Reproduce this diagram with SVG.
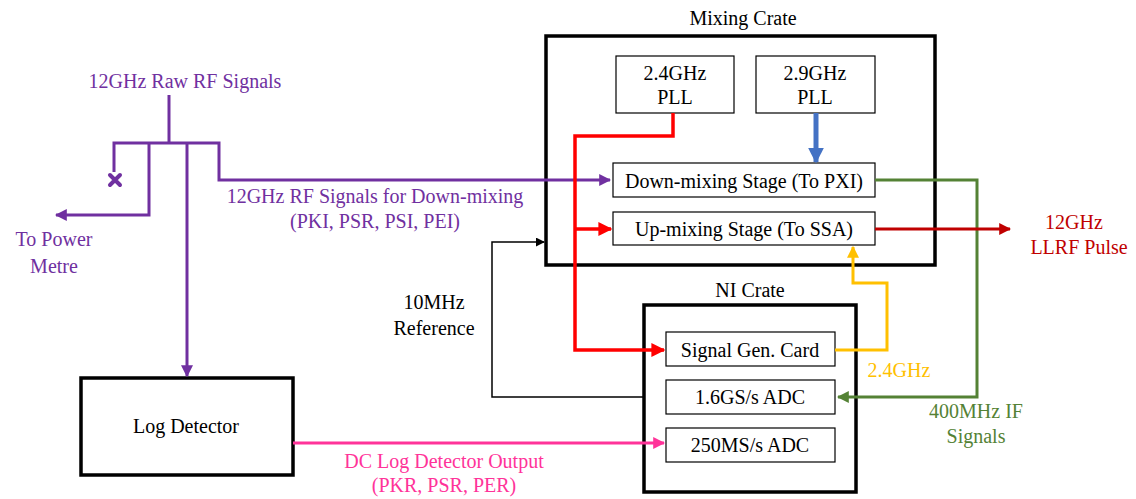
<svg xmlns="http://www.w3.org/2000/svg" width="1136" height="499" viewBox="0 0 1136 499">
<style>
text{font-family:"Liberation Serif","Times New Roman",serif;font-size:20px;text-anchor:middle;fill:#000}
.crate{fill:#fff;stroke:#000;stroke-width:3.5}
.box{fill:#fff;stroke:#000;stroke-width:1.2}
.ln{fill:none;stroke-linejoin:miter}
.pu{fill:#7030A0}.pk{fill:#FF3399}.gr{fill:#548235}.ye{fill:#FFC000}.dr{fill:#C00000}
</style>
<defs>
<marker id="aPu" viewBox="0 0 10 10" refX="9" refY="5" markerWidth="4" markerHeight="4" orient="auto" markerUnits="strokeWidth"><path d="M0,0L10,5L0,10z" fill="#7030A0"/></marker>
<marker id="aRd" viewBox="0 0 10 10" refX="9" refY="5" markerWidth="4" markerHeight="4" orient="auto" markerUnits="strokeWidth"><path d="M0,0L10,5L0,10z" fill="#FF0000"/></marker>
<marker id="aBl" viewBox="0 0 10 10" refX="9" refY="5" markerWidth="3.2" markerHeight="3.2" orient="auto" markerUnits="strokeWidth"><path d="M0,0L10,5L0,10z" fill="#4472C4"/></marker>
<marker id="aGr" viewBox="0 0 10 10" refX="9" refY="5" markerWidth="4" markerHeight="4" orient="auto" markerUnits="strokeWidth"><path d="M0,0L10,5L0,10z" fill="#548235"/></marker>
<marker id="aDr" viewBox="0 0 10 10" refX="9" refY="5" markerWidth="4" markerHeight="4" orient="auto" markerUnits="strokeWidth"><path d="M0,0L10,5L0,10z" fill="#C00000"/></marker>
<marker id="aYe" viewBox="0 0 10 10" refX="9" refY="5" markerWidth="4" markerHeight="4" orient="auto" markerUnits="strokeWidth"><path d="M0,0L10,5L0,10z" fill="#FFC000"/></marker>
<marker id="aPk" viewBox="0 0 10 10" refX="9" refY="5" markerWidth="4" markerHeight="4" orient="auto" markerUnits="strokeWidth"><path d="M0,0L10,5L0,10z" fill="#FF3399"/></marker>
<marker id="aBk" viewBox="0 0 10 10" refX="9" refY="5" markerWidth="6" markerHeight="6" orient="auto" markerUnits="strokeWidth"><path d="M0,0L10,5L0,10z" fill="#000"/></marker>
</defs>

<g id="mixing-crate">
<rect class="crate" x="546" y="36" width="389" height="229"/>
<text x="743" y="25">Mixing Crate</text>
</g>
<g id="ni-crate">
<rect class="crate" x="644" y="305" width="212" height="187"/>
<text x="750" y="297">NI Crate</text>
</g>
<g id="pll-24">
<rect class="box" x="616" y="56" width="118" height="57"/>
<text x="675" y="80">2.4GHz</text><text x="675" y="104">PLL</text>
</g>
<g id="pll-29">
<rect class="box" x="756" y="56" width="119" height="57"/>
<text x="815" y="80">2.9GHz</text><text x="815" y="104">PLL</text>
</g>
<g id="down-mixing">
<rect class="box" x="613" y="163" width="262" height="34"/>
<text x="744" y="188">Down-mixing Stage (To PXI)</text>
</g>
<g id="up-mixing">
<rect class="box" x="613" y="212" width="262" height="33"/>
<text x="744" y="236">Up-mixing Stage (To SSA)</text>
</g>
<g id="sig-gen">
<rect class="box" x="666" y="332" width="169" height="34"/>
<text x="750" y="357">Signal Gen. Card</text>
</g>
<g id="adc-16">
<rect class="box" x="666" y="380" width="169" height="34"/>
<text x="750" y="404">1.6GS/s ADC</text>
</g>
<g id="adc-250">
<rect class="box" x="666" y="428" width="169" height="34"/>
<text x="750" y="452">250MS/s ADC</text>
</g>
<g id="log-detector">
<rect class="crate" x="81" y="378" width="212" height="97"/>
<text x="186" y="433">Log Detector</text>
</g>

<g id="connectors">
<g stroke="#7030A0" stroke-width="3">
<path class="ln" d="M169,95V143"/>
<path class="ln" d="M114,172V143H219V180H610" marker-end="url(#aPu)"/>
<path class="ln" d="M149,143V215H56" marker-end="url(#aPu)"/>
<path class="ln" d="M187,143V376" marker-end="url(#aPu)"/>
</g>
<path d="M110,175L120,185M120,175L110,185" stroke="#7030A0" stroke-width="4" stroke-linecap="round"/>
<g stroke="#FF0000" stroke-width="3.5">
<path class="ln" d="M673,113V136H575V350H664" marker-end="url(#aRd)"/>
<path class="ln" d="M575,229H611" marker-end="url(#aRd)"/>
</g>
<path class="ln" d="M816,113V162" stroke="#4472C4" stroke-width="5" marker-end="url(#aBl)"/>
<path class="ln" d="M875,180H977V397H838" stroke="#548235" stroke-width="3" marker-end="url(#aGr)"/>
<path class="ln" d="M875,229H1010" stroke="#C00000" stroke-width="3" marker-end="url(#aDr)"/>
<path class="ln" d="M835,350H887V283H853V247" stroke="#FFC000" stroke-width="3" marker-end="url(#aYe)"/>
<path class="ln" d="M293,443H664" stroke="#FF3399" stroke-width="3" marker-end="url(#aPk)"/>
<path class="ln" d="M644,397H492V242H544" stroke="#000" stroke-width="1.5" marker-end="url(#aBk)"/>
</g>

<g id="labels">
<text class="pu" x="185" y="88">12GHz Raw RF Signals</text>
<text class="pu" x="54" y="246">To Power</text>
<text class="pu" x="54" y="273">Metre</text>
<text class="pu" x="375" y="203">12GHz RF Signals for Down-mixing</text>
<text class="pu" x="375" y="228">(PKI, PSR, PSI, PEI)</text>
<text x="434" y="309">10MHz</text>
<text x="434" y="335">Reference</text>
<text class="dr" x="1074" y="229">12GHz</text>
<text class="dr" x="1079" y="254">LLRF Pulse</text>
<text class="ye" x="899" y="377">2.4GHz</text>
<text class="gr" x="976" y="418">400MHz IF</text>
<text class="gr" x="976" y="443">Signals</text>
<text class="pk" x="444" y="468">DC Log Detector Output</text>
<text class="pk" x="444" y="492">(PKR, PSR, PER)</text>
</g>
</svg>
